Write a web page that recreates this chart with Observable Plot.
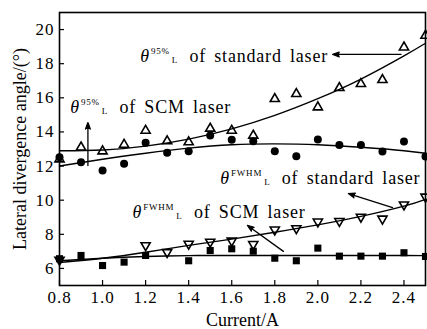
<!DOCTYPE html>
<html>
<head>
<meta charset="utf-8">
<script src="https://cdn.jsdelivr.net/npm/d3@7"></script>
<script src="https://cdn.jsdelivr.net/npm/@observablehq/plot@0.6"></script>
<style>
  html, body { margin: 0; padding: 0; background: white; }
  #chart { width: 427px; height: 329px; }
  #chart svg, #chart svg text { font-family: "Liberation Serif", "Tinos", "DejaVu Serif", serif !important; }
</style>
</head>
<body>
<div id="chart"></div>
<script>
// Current values (A)
const currents = [0.8, 0.9, 1.0, 1.1, 1.2, 1.3, 1.4, 1.5, 1.6, 1.7, 1.8, 1.9, 2.0, 2.1, 2.2, 2.3, 2.4, 2.5];
// theta 95% L, standard laser (open up-triangles)
const std95 = [12.4, 13.1, 12.87, 13.26, 14.08, 13.46, 13.4, 14.2, 14.08, 13.79, 15.94, 16.23, 15.45, 16.58, 16.82, 17.05, 18.96, 19.65];
// theta 95% L, SCM laser (filled circles)
const scm95 = [12.52, 12.23, 11.74, 12.13, 13.36, 12.78, 12.87, 13.79, 13.54, 13.46, 12.87, 12.58, 13.56, 13.24, 13.24, 12.85, 13.44, 12.56];
// theta FWHM L, standard laser (open down-triangles)
const stdFWHM = [6.5, null, null, null, 7.35, 6.95, 7.44, 7.56, 7.62, 7.42, 8.27, 8.35, 8.74, 8.77, 9.02, 8.91, 9.74, 10.2];
// theta FWHM L, SCM laser (filled squares)
const scmFWHM = [6.57, 6.76, 6.17, 6.37, 6.76, null, 6.45, 7.05, 7.15, 7.01, 6.6, 6.45, 7.19, 6.72, 6.72, 6.72, 6.92, 6.7];

// fitted trend lines
const fitX = [0.8, 1.0, 1.2, 1.4, 1.6, 1.8, 2.0, 2.2, 2.4, 2.5];
const fitStd95 = [12.9, 12.94, 13.17, 13.58, 14.18, 14.97, 15.95, 17.1, 18.46, 19.2];
const fitScm95 = [12.0, 12.4, 12.75, 13.05, 13.25, 13.3, 13.25, 13.1, 12.9, 12.75];
const fitStdFWHM = [6.35, 6.6, 6.95, 7.35, 7.72, 8.12, 8.55, 9.05, 9.65, 10.05];
const fitScmFWHM = [6.45, 6.6, 6.7, 6.75, 6.76, 6.76, 6.76, 6.76, 6.76, 6.75];

// ticks
const xTicks = [0.8, 1.0, 1.2, 1.4, 1.6, 1.8, 2.0, 2.2, 2.4];
const yTicks = [6, 8, 10, 12, 14, 16, 18, 20];

// annotations
const annSup = ["95%", "95%", "FWHM", "FWHM"];
const annText = ["of standard laser", "of SCM laser", "of standard laser", "of SCM laser"];
const annX = [1.175, 0.85, 1.547, 1.139];
const annY = [18.42, 15.43, 11.27, 9.28];
// arrows
const arrX1 = [2.386, 0.932, 2.347, 1.84];
const arrY1 = [18.54, 12.03, 9.57, 7.0];
const arrX2 = [2.069, 0.932, 2.142, 1.673];
const arrY2 = [18.54, 14.55, 10.39, 8.52];

const idx = d3.range(currents.length);
const fidx = d3.range(fitX.length);
const aidx = d3.range(annText.length);

const serif = "Liberation Serif, Tinos, DejaVu Serif, serif";
const W = 427, H = 329, ML = 59, MR = 2, MT = 12, MB = 44;

const plot = Plot.plot({
  width: W, height: H,
  marginLeft: ML, marginRight: MR, marginTop: MT, marginBottom: MB,
  style: {fontFamily: serif, fontSize: "17px", background: "white", color: "black", overflow: "visible"},
  x: {domain: [0.8, 2.5]},
  y: {domain: [5, 21]},
  marks: [
    Plot.line(fidx, {x: i => fitX[i], y: i => fitStd95[i], curve: "natural", stroke: "black", strokeWidth: 1.4}),
    Plot.line(fidx, {x: i => fitX[i], y: i => fitScm95[i], curve: "natural", stroke: "black", strokeWidth: 1.4}),
    Plot.line(fidx, {x: i => fitX[i], y: i => fitStdFWHM[i], curve: "natural", stroke: "black", strokeWidth: 1.4}),
    Plot.line(fidx, {x: i => fitX[i], y: i => fitScmFWHM[i], curve: "natural", stroke: "black", strokeWidth: 1.4}),
    Plot.dot(idx, {x: i => currents[i], y: i => scm95[i], symbol: "circle", r: 4, fill: "black", stroke: "none"}),
    Plot.dot(idx, {x: i => currents[i], y: i => scmFWHM[i], symbol: "square", r: 4, fill: "black", stroke: "none"}),
    Plot.dot(idx, {x: i => currents[i], y: i => std95[i], symbol: "triangle", r: 3.4, fill: "white", fillOpacity: 0, stroke: "black", strokeWidth: 1.6}),
    Plot.dot(idx, {x: i => currents[i], y: i => stdFWHM[i], symbol: "triangle", rotate: 180, r: 3.4, fill: "white", fillOpacity: 0, stroke: "black", strokeWidth: 1.6}),
    Plot.arrow(aidx, {x1: i => arrX1[i], y1: i => arrY1[i], x2: i => arrX2[i], y2: i => arrY2[i], stroke: "black", fill: "black", strokeWidth: 1.3, headLength: 8, headAngle: 40, strokeLinejoin: "miter"}),
    Plot.text(aidx, {x: i => annX[i], y: i => annY[i], text: i => annText[i], textAnchor: "start", fontSize: 18, fontFamily: serif, ariaLabel: () => "annotation"}),
    Plot.tickX(xTicks, {x: d => d, insetTop: (H - MT - MB) - 5, stroke: "black", strokeWidth: 1.2}),
    Plot.tickY(yTicks, {y: d => d, insetRight: (W - ML - MR) - 5, stroke: "black", strokeWidth: 1.2}),
    Plot.axisX(xTicks, {tickSize: 0, tickPadding: 5, tickFormat: d => d.toFixed(1), label: null, fontSize: 17, fontFamily: serif}),
    Plot.axisY(yTicks, {tickSize: 0, tickPadding: 5, label: null, fontSize: 17, fontFamily: serif}),
    Plot.text(["Current/A"], {frameAnchor: "bottom", dy: 35, lineAnchor: "middle", textAnchor: "middle", text: d => d, fontSize: 18, fontFamily: serif}),
    Plot.text(["Lateral divergence angle/(°)"], {frameAnchor: "left", dx: -39, rotate: -90, textAnchor: "middle", lineAnchor: "middle", text: d => d, fontSize: 18, fontFamily: serif}),
    Plot.frame({stroke: "black", strokeWidth: 1.6})
  ]
});

const svg = d3.select(plot);
svg.attr("font-family", serif);

// rich annotation text: θ with superscript and subscript
svg.selectAll('text[aria-label="annotation"]').each(function(_, i) {
  const t = d3.select(this);
  const rest = t.text();
  t.text(null).attr("letter-spacing", "0.8px").attr("word-spacing", "3px");
  t.append("tspan").attr("font-style", "italic").text("θ");
  t.append("tspan").attr("font-size", 9).attr("dy", -8).attr("dx", 1).text(annSup[i]);
  t.append("tspan").attr("font-size", 9).attr("dy", 9).attr("dx", 2).text("L");
  t.append("tspan").attr("dy", -1).attr("dx", 3).text(" " + rest);
});
svg.selectAll('g[aria-label="x-axis tick label"] text, g[aria-label="y-axis tick label"] text').attr("letter-spacing", "1px");

document.getElementById("chart").appendChild(plot);
</script>
</body>
</html>
